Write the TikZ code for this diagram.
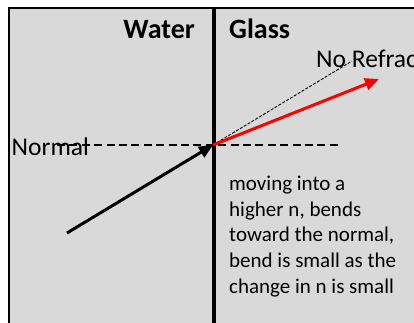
\documentclass[tikz,border=0pt]{standalone}
\usepackage{fontspec}
\setmainfont{Carlito}
\usetikzlibrary{arrows.meta, positioning, calc}
\definecolor{panel}{HTML}{D9D9D9}
\definecolor{rayred}{HTML}{FF0000}

\begin{document}
\begin{tikzpicture}[
  x=1pt,
  y=-1pt,
  >=Latex,
  medium/.style={font=\fontsize{28}{34}\selectfont\bfseries, inner sep=0pt},
  lab/.style={font=\fontsize{25.5}{30}\selectfont, inner sep=0pt},
  note/.style={font=\fontsize{21}{25.6}\selectfont, align=left, inner sep=0pt},
  normalline/.style={dash pattern=on 8pt off 4.4pt, line width=1.8pt},
  ghostline/.style={dash pattern=on 3pt off 1.5pt, line width=0.9pt},
  ray/.style={-{Triangle[length=14pt, width=12pt]}, line width=3pt},
  boundary/.style={line width=4pt}
]
  \clip (0,0) rectangle (414,322);
  \useasboundingbox (0,0) rectangle (414,322);

  % Tank with the water/glass boundary.
  \draw[fill=panel, line width=2pt] (9,8) rectangle (440,345);
  \coordinate (boundtop) at (213.5,7);
  \coordinate (boundbot) at (213.5,330);
  \draw[boundary] (boundtop) -- (boundbot);

  \node[medium, anchor=base east] at (195,38)  (water) {Water};
  \node[medium, anchor=base west] at (229,38)  (glass) {Glass};

  % Normal and the rays.
  \coordinate (hit)      at (213,145);
  \coordinate (source)   at (67,233);
  \coordinate (normbeg)  at (57,145);
  \coordinate (normend)  at (342,145);
  \coordinate (straight) at (352,61);
  \coordinate (bent)     at (379,79);

  \node[lab, anchor=base west] at (11.5,155) (normal) {Normal};
  \node[lab, anchor=base west] at (316,67.5) (norefr) {No Refraction};

  \draw[normalline] (normbeg) -- (normend);
  \draw[ghostline]  (hit) -- (straight);
  \draw[ray]        (source) -- (hit);
  \draw[ray, rayred] (hit) -- (bent);

  % Explanation, set from the last line's baseline.
  \node[note, anchor=base west] at (229,293) (explain) {
    moving into a\\
    higher n, bends\\
    toward the normal,\\
    bend is small as the\\
    change in n is small};

\end{tikzpicture}
\end{document}
